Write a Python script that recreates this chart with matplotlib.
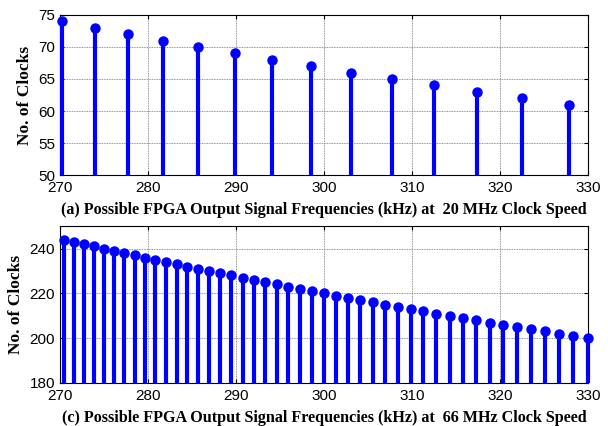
import matplotlib
matplotlib.use("Agg")
import matplotlib.pyplot as plt

# --- data ---
# (a) 20 MHz clock: output frequency (kHz) vs number of clocks
freq_20 = [270.27, 273.97, 277.78, 281.69, 285.71, 289.86, 294.12,
           298.51, 303.03, 307.69, 312.50, 317.46, 322.58, 327.87]
clocks_20 = [74, 73, 72, 71, 70, 69, 68, 67, 66, 65, 64, 63, 62, 61]

# (c) 66 MHz clock
freq_66 = [270.49, 271.60, 272.73, 273.86, 275.00, 276.15, 277.31, 278.48,
           279.66, 280.85, 282.05, 283.26, 284.48, 285.71, 286.96, 288.21,
           289.47, 290.75, 292.04, 293.33, 294.64, 295.96, 297.30, 298.64,
           300.00, 301.37, 302.75, 304.15, 305.56, 306.98, 308.41, 309.86,
           311.32, 312.80, 314.29, 315.79, 317.31, 318.84, 320.39, 321.95,
           323.53, 325.12, 326.73, 328.36, 330.00]
clocks_66 = [244, 243, 242, 241, 240, 239, 238, 237, 236, 235, 234, 233,
             232, 231, 230, 229, 228, 227, 226, 225, 224, 223, 222, 221,
             220, 219, 218, 217, 216, 215, 214, 213, 212, 211, 210, 209,
             208, 207, 206, 205, 204, 203, 202, 201, 200]

x_ticks = [270, 280, 290, 300, 310, 320, 330]
y_ticks_20 = [50, 55, 60, 65, 70, 75]
y_ticks_66 = [180, 200, 220, 240]

cap_a = "(a) Possible FPGA Output Signal Frequencies (kHz) at  20 MHz Clock Speed"
cap_c = "(c) Possible FPGA Output Signal Frequencies (kHz) at  66 MHz Clock Speed"

BLUE = "#0000ff"
ylab_font = dict(family="Liberation Serif", weight="bold", size=12.5)
cap_font = dict(family="Liberation Serif", weight="bold", size=11.6)

fig = plt.figure(figsize=(6.08, 4.26), dpi=100)
ax1 = fig.add_axes([0.0987, 0.589, 0.868, 0.376])
ax2 = fig.add_axes([0.0987, 0.101, 0.868, 0.368])


def draw(ax, xs, ys, base, ylim, yticks, caption):
    ax.vlines(xs, base, ys, color=BLUE, linewidth=3, zorder=3, clip_on=False)
    ax.plot(xs, ys, "o", color=BLUE, markersize=6.5, zorder=4, clip_on=False)
    ax.set_xlim(270, 330)
    ax.set_ylim(*ylim)
    ax.set_xticks(x_ticks)
    ax.set_yticks(yticks)
    ax.grid(True, color="#707070", linestyle=(0, (1, 1)), linewidth=0.6)
    ax.set_axisbelow(True)
    ax.tick_params(direction="in", top=True, right=True, length=3,
                   labelsize=11)
    ax.tick_params(axis="x", pad=4.5)
    ax.tick_params(axis="y", pad=3.5)
    for lab in ax.get_xticklabels() + ax.get_yticklabels():
        lab.set_family("Liberation Sans")
    for s in ax.spines.values():
        s.set_linewidth(0.8)
    ax.set_ylabel("No. of Clocks", fontdict=ylab_font, labelpad=4)
    ax.set_xlabel(caption, fontdict=cap_font, labelpad=5)


draw(ax1, freq_20, clocks_20, 50, (50, 75), y_ticks_20, cap_a)
draw(ax2, freq_66, clocks_66, 180, (180, 250), y_ticks_66, cap_c)

fig.savefig("out.png", dpi=100)
